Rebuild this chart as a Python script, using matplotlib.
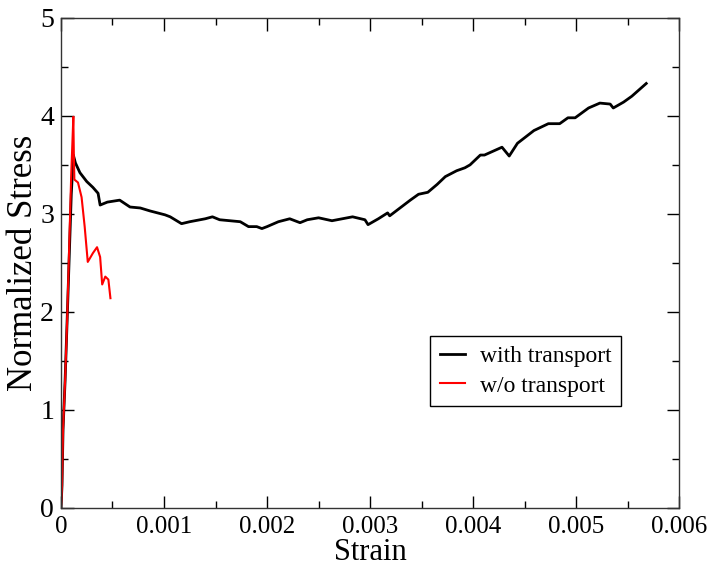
import numpy as np
import matplotlib
matplotlib.use('Agg')
import matplotlib.pyplot as plt
from matplotlib.ticker import MultipleLocator, FuncFormatter

plt.rcParams['font.family'] = ['Liberation Serif', 'DejaVu Serif']

# curve with transport
strain_with = [0, 0.00001, 0.00002, 0.00004, 0.00006, 0.0001, 0.00012, 0.00014, 0.000184,
               0.00025, 0.00031, 0.00036, 0.00038, 0.00045, 0.00057, 0.00067, 0.00077,
               0.000864, 0.00101, 0.00106, 0.00117, 0.00125, 0.0014, 0.00147, 0.00154,
               0.00174, 0.00182, 0.0019, 0.00195, 0.002, 0.00211, 0.00222, 0.00232,
               0.00239, 0.0025, 0.00263, 0.00283, 0.00295, 0.00298, 0.00308, 0.00317,
               0.00319, 0.00329, 0.00339, 0.00347, 0.00356, 0.00365, 0.00373, 0.00384,
               0.00392, 0.00397, 0.00407, 0.00411, 0.00428, 0.00435, 0.00443, 0.00459,
               0.00473, 0.00484, 0.00492, 0.00499, 0.00512, 0.00523, 0.00533, 0.00536,
               0.00546, 0.00554, 0.00568]
stress_with = [0, 0.23, 0.8, 1.3, 1.92, 3.2, 3.6, 3.52, 3.42,
               3.33, 3.27, 3.21, 3.09, 3.12, 3.14, 3.07, 3.06,
               3.03, 2.99, 2.97, 2.90, 2.92, 2.95, 2.97, 2.94,
               2.92, 2.87, 2.87, 2.85, 2.87, 2.92, 2.95, 2.91,
               2.94, 2.96, 2.93, 2.97, 2.94, 2.89, 2.95, 3.01,
               2.98, 3.06, 3.14, 3.20, 3.22, 3.30, 3.38, 3.44,
               3.47, 3.50, 3.60, 3.60, 3.68, 3.59, 3.72, 3.85,
               3.92, 3.92, 3.98, 3.98, 4.08, 4.13, 4.12, 4.08,
               4.14, 4.20, 4.33]

# curve without transport
strain_wo = [0, 0.000005, 0.00001, 0.00002, 0.00004, 0.00006, 0.00007, 0.0001, 0.00011,
             0.00012, 0.000125, 0.00013, 0.000165, 0.0002, 0.00023, 0.00026, 0.00031,
             0.00035, 0.00038, 0.0004, 0.00043, 0.00046, 0.00048]
stress_wo = [0, 0.1, 0.23, 0.8, 1.3, 1.92, 2.3, 3.42, 3.7,
             3.99, 3.6, 3.35, 3.32, 3.17, 2.87, 2.51, 2.6,
             2.66, 2.56, 2.28, 2.36, 2.33, 2.14]

fig = plt.figure(figsize=(7.09, 5.74), dpi=100)
ax = fig.add_axes([0.086, 0.115, 0.872, 0.854])

ax.plot(strain_with, stress_with, color='black', lw=2.0, label='with transport')
ax.plot(strain_wo, stress_wo, color='#ff0000', lw=1.5, label='w/o transport')

ax.set_xlim(0, 0.006)
ax.set_ylim(0, 5)
ax.xaxis.set_major_locator(MultipleLocator(0.001))
ax.xaxis.set_minor_locator(MultipleLocator(0.0005))
ax.yaxis.set_major_locator(MultipleLocator(1))
ax.yaxis.set_minor_locator(MultipleLocator(0.5))
ax.xaxis.set_major_formatter(FuncFormatter(lambda v, p: '0' if abs(v) < 1e-12 else '%g' % v))
ax.yaxis.set_major_formatter(FuncFormatter(lambda v, p: '%d' % round(v)))

ax.tick_params(which='both', direction='in', top=True, right=True, width=1.0)
ax.tick_params(which='major', length=9)
ax.tick_params(which='minor', length=4.7)
ax.tick_params(axis='x', labelsize=18, pad=6)
ax.tick_params(axis='y', labelsize=20, pad=5)
for s in ax.spines.values():
    s.set_linewidth(1.0)
    s.set_color('#333333')

ax.set_xlabel('Strain', fontsize=22, labelpad=0)
ax.set_ylabel('Normalized Stress', fontsize=25, labelpad=0)

leg = ax.legend(loc='lower left', bbox_to_anchor=(0.597, 0.208), borderaxespad=0,
                fontsize=17, fancybox=False, framealpha=1, edgecolor='black',
                handlelength=1.1, handletextpad=0.6, labelspacing=0.35,
                borderpad=0.4)
leg.get_frame().set_linewidth(1.0)

fig.savefig('out.png', dpi=100)
